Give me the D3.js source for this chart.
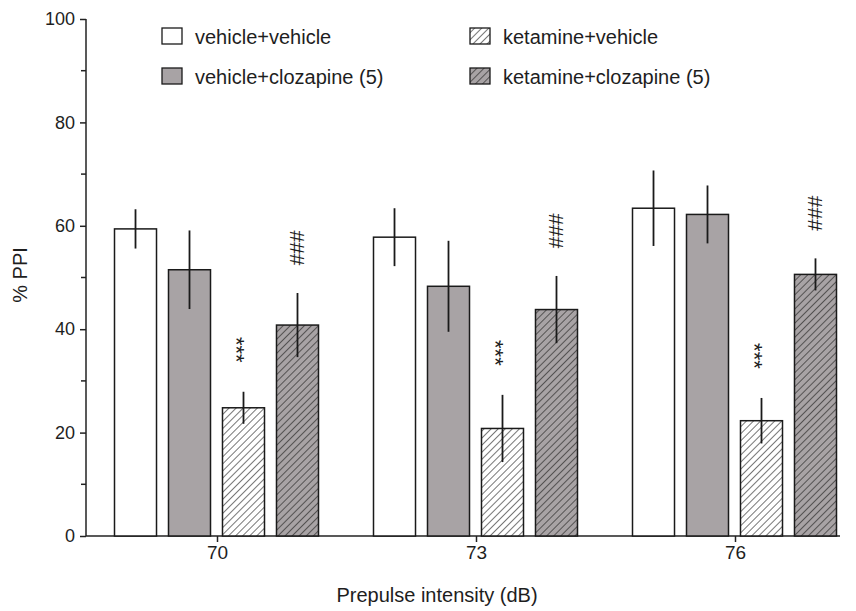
<!DOCTYPE html>
<html><head><meta charset="utf-8">
<script src="https://cdn.jsdelivr.net/npm/d3@7"></script>
<style>body{margin:0;background:#fff;}svg{display:block;font-family:"Liberation Sans",Arial,sans-serif;}</style>
</head><body><svg id="c" width="856" height="611"></svg>
<script>
const categories = ["70", "73", "76"];
const seriesNames = ["vehicle+vehicle", "vehicle+clozapine (5)", "ketamine+vehicle", "ketamine+clozapine (5)"];
const means = {
  "vehicle+vehicle":        [59.4, 57.8, 63.4],
  "vehicle+clozapine (5)":  [51.5, 48.3, 62.2],
  "ketamine+vehicle":       [24.8, 20.8, 22.3],
  "ketamine+clozapine (5)": [40.8, 43.8, 50.6]
};
const errs = {
  "vehicle+vehicle":        [3.8, 5.6, 7.3],
  "vehicle+clozapine (5)":  [7.6, 8.8, 5.6],
  "ketamine+vehicle":       [3.1, 6.5, 4.4],
  "ketamine+clozapine (5)": [6.2, 6.5, 3.1]
};
const yTicks = [0, 20, 40, 60, 80, 100];
const yMinorTicks = [10, 30, 50, 70, 90];
const starText = "***";
const hashText = "###";

const svg = d3.select("#c");
const defs = svg.append("defs");
function hatch(id, bg) {
  const s = 5;
  const p = defs.append("pattern").attr("id", id).attr("patternUnits", "userSpaceOnUse")
    .attr("width", s).attr("height", s).attr("patternTransform", "rotate(45)");
  p.append("rect").attr("width", s).attr("height", s).attr("fill", bg);
  p.append("line").attr("x1", 0).attr("y1", 0).attr("x2", 0).attr("y2", s)
    .attr("stroke", "#1a1a1a").attr("stroke-width", 1.2);
}
hatch("hw", "#ffffff");
hatch("hg", "#a8a3a5");
const fills = {
  "vehicle+vehicle": "#ffffff",
  "vehicle+clozapine (5)": "#a8a3a5",
  "ketamine+vehicle": "url(#hw)",
  "ketamine+clozapine (5)": "url(#hg)"
};

const y = d3.scaleLinear().domain([0, 100]).range([536, 19]);
const x = d3.scalePoint().domain(categories).range([217, 735]);
const xi = d3.scaleBand().domain(seriesNames).range([-102.5, 101.5]).paddingInner(0.222).paddingOuter(0);
const axisColor = "#222";
const textColor = "#1e1e1e";

// Y axis
const ya = svg.append("g").attr("transform", "translate(86,0)")
  .call(d3.axisLeft(y).tickValues(yTicks).tickSize(6).tickPadding(5));
ya.selectAll("text").attr("font-size", 18).attr("fill", textColor);
ya.selectAll("line,path").attr("stroke", axisColor).attr("stroke-width", 1.5);
ya.select("path").attr("d", `M0,${y(100)}V${y(0)}`);
svg.append("g").attr("transform", "translate(86,0)").selectAll("line").data(yMinorTicks).join("line")
  .attr("x1", -5).attr("x2", 0).attr("y1", d => y(d)).attr("y2", d => y(d))
  .attr("stroke", axisColor).attr("stroke-width", 1.5);

// X axis
const xa = svg.append("g").attr("transform", "translate(0,536)")
  .call(d3.axisBottom(x).tickSize(6).tickPadding(4));
xa.select("path").remove();
xa.selectAll("text").attr("font-size", 19).attr("fill", textColor);
xa.selectAll("line").attr("stroke", axisColor).attr("stroke-width", 1.5);
svg.append("line").attr("x1", 86).attr("x2", 840).attr("y1", 536).attr("y2", 536)
  .attr("stroke", axisColor).attr("stroke-width", 1.5);

// Bars
seriesNames.forEach(s => {
  const g = svg.append("g");
  categories.forEach((c, i) => {
    const x0 = x(c) + xi(s);
    const v = means[s][i], e = errs[s][i];
    g.append("rect").attr("x", x0).attr("y", y(v)).attr("width", xi.bandwidth())
      .attr("height", y(0) - y(v)).attr("fill", fills[s]).attr("stroke", "#1a1a1a").attr("stroke-width", 1.5);
    g.append("line").attr("x1", x0 + xi.bandwidth() / 2).attr("x2", x0 + xi.bandwidth() / 2)
      .attr("y1", y(v - e)).attr("y2", y(v + e)).attr("stroke", "#1a1a1a").attr("stroke-width", 1.8);
  });
});

// Annotations
categories.forEach((c, i) => {
  const sKv = "ketamine+vehicle", sKc = "ketamine+clozapine (5)";
  const cx1 = x(c) + xi(sKv) + xi.bandwidth() / 2;
  const ys = y(means[sKv][i] + errs[sKv][i]) - 42;
  svg.append("text").attr("transform", `translate(${cx1 - 14},${ys}) rotate(90)`)
    .attr("text-anchor", "middle").attr("font-size", 22).attr("fill", textColor).text(starText);
  const cx2 = x(c) + xi(sKc) + xi.bandwidth() / 2;
  const yh = y(means[sKc][i] + errs[sKc][i]) - 45;
  svg.append("text").attr("transform", `translate(${cx2 - 7},${yh}) rotate(90)`)
    .attr("text-anchor", "middle").attr("font-size", 21).attr("fill", textColor).text(hashText);
});

// Axis titles
svg.append("text").attr("transform", "translate(27,275) rotate(-90)").attr("text-anchor", "middle")
  .attr("font-size", 20).attr("fill", textColor).text("% PPI");
svg.append("text").attr("x", 437).attr("y", 602).attr("text-anchor", "middle")
  .attr("font-size", 20).attr("fill", textColor).text("Prepulse intensity (dB)");

// Legend
const legPos = [[162, 28], [162, 68], [470, 28], [470, 68]];
seriesNames.forEach((s, k) => {
  const [lx, ly] = legPos[k];
  svg.append("rect").attr("x", lx).attr("y", ly).attr("width", 20).attr("height", 16)
    .attr("fill", fills[s]).attr("stroke", "#1a1a1a").attr("stroke-width", 1.3);
  svg.append("text").attr("x", lx + 33).attr("y", ly + 16).attr("font-size", 20).attr("fill", textColor).text(s);
});
</script></body></html>
